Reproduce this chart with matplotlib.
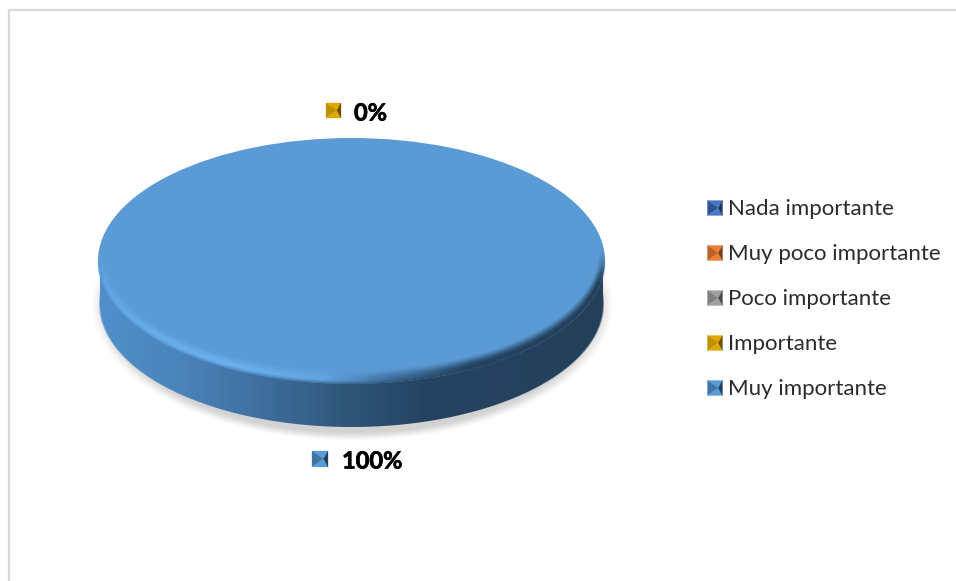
"""Pie chart with a fake 3D disc look (Excel style)."""
import numpy as np
import matplotlib
matplotlib.use("Agg")
import matplotlib.pyplot as plt
import matplotlib.patheffects as pe
from matplotlib.patches import Polygon

plt.rcParams["font.family"] = ["Lato", "Open Sans", "DejaVu Sans"]

# ---- data ----
categories = ["Nada importante", "Muy poco importante", "Poco importante",
              "Importante", "Muy importante"]
values = [0, 0, 0, 0, 100]
pct_labels = {3: "0%", 4: "100%"}

# ---- palette: (main, light, dark) ----
colors = ["#4472C4", "#ED7D31", "#A5A5A5", "#FFC000", "#5B9BD5"]
marker_tones = [("#2F528F", "#4A78C8", "#1F3864"),
                ("#B8632A", "#ED7D31", "#7A3F14"),
                ("#7F7F7F", "#A0A0A0", "#4A4A4A"),
                ("#BF9000", "#E0A800", "#6B5200"),
                ("#3F74A6", "#5B9BD5", "#1F4060")]
FRAME = "#D9D9D9"
TEXT = "#2B2B2B"

W, H = 956, 581
CX, CY, RX, RY = 351.5, 261.0, 253.5, 123.0   # top face, in pixels
DEPTH = 43.0


def px(x):
    return (x - CX) / RX


def py(y):
    return (CY - y) / RY


fig = plt.figure(figsize=(W / 100, H / 100), dpi=100, facecolor="white")
ax = fig.add_axes([0, 0, 1, 1])
ax.axis("off")

xx, yy = np.meshgrid(np.arange(W) + 0.5, np.arange(H) + 0.5)
extent = (px(0), px(W), py(H), py(0))


def radius(cx, cy, rx, ry):
    return np.sqrt(((xx - cx) / rx) ** 2 + ((yy - cy) / ry) ** 2)


def soft_ellipse(cx, cy, rx, ry, blur=1.0):
    return np.clip((1 - radius(cx, cy, rx, ry)) * min(rx, ry) / blur + 0.5, 0, 1)


def smooth(a, b, v):
    t = np.clip((v - a) / (b - a), 0, 1)
    return t * t * (3 - 2 * t)


def rgba(rgb, alpha):
    out = np.zeros((H, W, 4))
    out[..., :3] = rgb
    out[..., 3] = alpha
    return out


def lerp_rgb(stops_x, stops):
    rgb = [matplotlib.colors.to_rgb(c) for c in stops]
    return np.stack([np.interp(xx, stops_x, [c[i] for c in rgb]) for i in range(3)], axis=-1)


def layer(img, z):
    ax.imshow(img, extent=extent, origin="upper", aspect="auto", zorder=z,
              interpolation="nearest")


# soft ground shadow
r_sh = radius(CX + 1, CY + DEPTH, RX + 10, RY + 15)
shadow = (1 - smooth(0.92, 1.0, r_sh)) * smooth(255, 295, yy) * 0.18
layer(rgba(0.0, shadow), 1)

# side wall of the disc
bottom = soft_ellipse(CX, CY + DEPTH, RX - 1.5, RY)
wall = np.where((np.abs(xx - CX) < RX - 1.5) & (yy > CY) & (yy < CY + DEPTH), 1.0, bottom)
side = lerp_rgb([98, 180, 260, 340, 420, 605],
                ["#5090CA", "#4A84BA", "#3F6F9F", "#30587C", "#264462", "#243F59"])
layer(rgba(side, wall), 2)

# the pie itself, squashed by the axes scaling
wedges, _ = ax.pie(values, colors=colors, radius=1.0, center=(0, 0), startangle=90,
                   counterclock=False, wedgeprops={"linewidth": 0})
for w in wedges:
    w.set_zorder(3)

# bevel on the rim: bright at lower left, dark at lower right
f_in = radius(CX, CY - 6, RX - 8, RY - 9) - 1
f_out = 1 - radius(CX, CY, RX, RY)
ring = np.clip(f_in, 0, None) / np.maximum(np.clip(f_in, 0, None) + np.clip(f_out, 0, None), 1e-6)
bevel_rgb = lerp_rgb([98, 130, 220, 320, 390, 470, 605],
                     ["#5FA3E2", "#66ACEC", "#6DB4F2", "#62A8E6", "#3F6F9F", "#25425F", "#243F59"])
edge = smooth(0.7, 1.15, ring)[..., None]
bevel_rgb = bevel_rgb * (1 - edge) + side * edge
bevel = smooth(0.0, 0.8, ring) * soft_ellipse(CX, CY, RX, RY) * smooth(CY - 15, CY + 25, yy)
layer(rgba(bevel_rgb, bevel), 4)

ax.set_aspect("auto")
ax.set_xlim(px(0), px(W))
ax.set_ylim(py(H), py(0))


def pyramid(x0, y0, size, tones):
    """Little bevelled legend key."""
    main, light, dark = tones
    x1, y1 = x0 + size, y0 + size
    mx, my = x0 + size * 0.72, y0 + size / 2
    tris = [([(x0, y0), (x1, y0), (mx, my)], light),
            ([(x0, y0), (x0, y1), (mx, my)], main),
            ([(x0, y1), (x1, y1), (mx, my)], light),
            ([(x1, y0), (x1, y1), (mx, my)], dark)]
    for pts, c in tris:
        ax.add_patch(Polygon([(px(a), py(b)) for a, b in pts], closed=True, fc=c, ec=c,
                             lw=0.2, zorder=6))


# legend
for i, name in enumerate(categories):
    yc = 208 + i * 45
    pyramid(707.5, yc - 7.5, 15, marker_tones[i])
    ax.text(px(728.5), py(yc + 1), name, ha="left", va="center", fontsize=16.05, color=TEXT, zorder=6)

# data labels
heavy = [pe.withStroke(linewidth=0.5, foreground="black")]
pyramid(326, 103, 15, marker_tones[3])
ax.text(px(354), py(113), pct_labels[3], ha="left", va="center", fontsize=17, fontweight="bold",
        color="black", zorder=6, path_effects=heavy)
pyramid(312, 451, 16, marker_tones[4])
ax.text(px(342), py(461), pct_labels[4], ha="left", va="center", fontsize=17, fontweight="bold",
        color="black", zorder=6, path_effects=heavy)

# chart frame
ax.plot([px(8.5), px(8.5), px(W)], [py(H), py(9.5), py(9.5)], color=FRAME, lw=1.6, zorder=0,
        solid_joinstyle="miter")

fig.savefig("out.png", dpi=100, facecolor="white")
